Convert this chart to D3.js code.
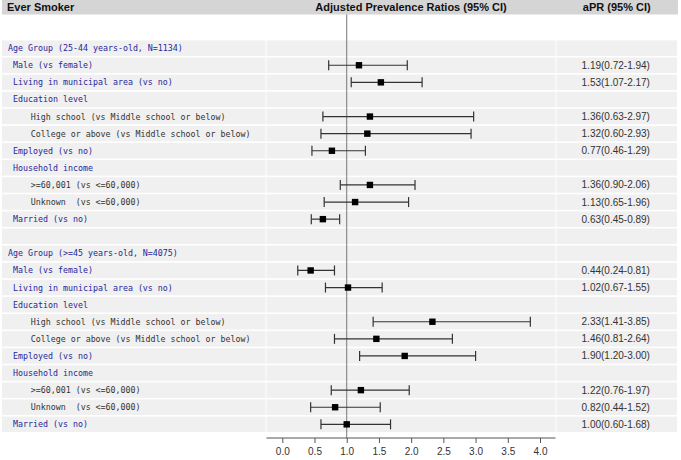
<!DOCTYPE html>
<html><head><meta charset="utf-8">
<script src="https://cdn.jsdelivr.net/npm/d3@7"></script>
<style>body{margin:0;background:#fff}svg{display:block}</style>
</head><body><svg id="c" width="681" height="460"></svg>
<script>
const labels = [
 "Age Group (25-44 years-old, N=1134)","Male (vs female)","Living in municipal area (vs no)","Education level",
 "High school (vs Middle school or below)","College or above (vs Middle school or below)","Employed (vs no)","Household income",
 ">=60,001 (vs <=60,000)","Unknown  (vs <=60,000)","Married (vs no)","",
 "Age Group (>=45 years-old, N=4075)","Male (vs female)","Living in municipal area (vs no)","Education level",
 "High school (vs Middle school or below)","College or above (vs Middle school or below)","Employed (vs no)","Household income",
 ">=60,001 (vs <=60,000)","Unknown  (vs <=60,000)","Married (vs no)"];
const levels = [0,1,1,1,2,2,1,1,2,2,1,-1,0,1,1,1,2,2,1,1,2,2,1];
const apr = [null,1.19,1.53,null,1.36,1.32,0.77,null,1.36,1.13,0.63,null,null,0.44,1.02,null,2.33,1.46,1.90,null,1.22,0.82,1.00];
const lo  = [null,0.72,1.07,null,0.63,0.60,0.46,null,0.90,0.65,0.45,null,null,0.24,0.67,null,1.41,0.81,1.20,null,0.76,0.44,0.60];
const hi  = [null,1.94,2.17,null,2.97,2.93,1.29,null,2.06,1.96,0.89,null,null,0.81,1.55,null,3.85,2.64,3.00,null,1.97,1.52,1.68];
const xTicks = [0,0.5,1,1.5,2,2.5,3,3.5,4];
const titles = ["Ever Smoker","Adjusted Prevalence Ratios (95% CI)","aPR (95% CI)"];

const svg = d3.select("#c");
const L = {x0:2, x1:265.5}, P = {x0:266.5, x1:555.5}, R = {x0:556.5, x1:677};
const y = d3.scaleBand().domain(d3.range(labels.length)).range([39.6, 39.6 + labels.length*17.1]);
const x = d3.scaleLinear().domain([0,4]).range([282.3, 540]);
const fmt = d3.format(".2f");

// header
svg.append("rect").attr("x",2).attr("y",0).attr("width",676).attr("height",14.5).attr("fill","#d5d5d5");
svg.append("text").attr("x",7).attr("y",11).text(titles[0])
  .attr("font-family","Liberation Sans, Arial, sans-serif").attr("font-size",11).attr("font-weight","bold").attr("fill","#111");
svg.append("text").attr("x",(P.x0+P.x1)/2).attr("y",11).attr("text-anchor","middle").text(titles[1])
  .attr("font-family","Liberation Sans, Arial, sans-serif").attr("font-size",11).attr("font-weight","bold").attr("fill","#111");
svg.append("text").attr("x",(R.x0+R.x1)/2).attr("y",11).attr("text-anchor","middle").text(titles[2])
  .attr("font-family","Liberation Sans, Arial, sans-serif").attr("font-size",11).attr("font-weight","bold").attr("fill","#111");

// row backgrounds
const rows = svg.append("g");
[L,P,R].forEach(c=>{
  rows.selectAll(null).data(labels).join("rect")
    .attr("x",c.x0).attr("width",c.x1-c.x0)
    .attr("y",(d,i)=>y(i)+0.8).attr("height",y.bandwidth()-1.6)
    .attr("fill","#f0f0f0");
});

// left labels
svg.append("g").selectAll("text").data(labels).join("text")
  .attr("x",(d,i)=>levels[i]===2?30.7:(levels[i]===1?13:8))
  .attr("y",(d,i)=>y(i)+y.bandwidth()/2+3)
  .attr("font-family","DejaVu Sans Mono, monospace").attr("font-size",8.3)
  .attr("fill",(d,i)=>levels[i]===2?"#333":"#27279a")
  .style("white-space","pre")
  .text(d=>d);

// right column values
svg.append("g").selectAll("text").data(apr.map((v,i)=>i).filter(i=>apr[i]!=null)).join("text")
  .attr("x",(R.x0+R.x1)/2-1).attr("y",i=>y(i)+y.bandwidth()/2+3.5)
  .attr("text-anchor","middle")
  .attr("font-family","Liberation Sans, Arial, sans-serif").attr("font-size",10).attr("fill","#333")
  .text(i=>`${fmt(apr[i])}(${fmt(lo[i])}-${fmt(hi[i])})`);

// reference line
svg.append("line").attr("x1",x(1)).attr("x2",x(1)).attr("y1",14.5).attr("y2",438)
  .attr("stroke","#777").attr("stroke-width",1);

// error bars
const idx = apr.map((v,i)=>i).filter(i=>apr[i]!=null);
const eb = svg.append("g").selectAll("g").data(idx).join("g")
  .attr("transform",i=>`translate(0,${y(i)+y.bandwidth()/2})`);
eb.append("line").attr("x1",i=>x(lo[i])).attr("x2",i=>x(hi[i])).attr("stroke","#333").attr("stroke-width",1.2);
eb.append("line").attr("x1",i=>x(lo[i])).attr("x2",i=>x(lo[i])).attr("y1",-5).attr("y2",5).attr("stroke","#333").attr("stroke-width",1.2);
eb.append("line").attr("x1",i=>x(hi[i])).attr("x2",i=>x(hi[i])).attr("y1",-5).attr("y2",5).attr("stroke","#333").attr("stroke-width",1.2);
eb.append("rect").attr("x",i=>x(apr[i])-3.2).attr("y",-3.2).attr("width",6.4).attr("height",6.4).attr("fill","#000");

// axis
const ax = svg.append("g").attr("transform","translate(0,438)")
  .call(d3.axisBottom(x).tickValues(xTicks).tickFormat(d3.format(".1f")).tickSize(5).tickPadding(5));
ax.select(".domain").attr("d",`M${P.x0},0H${P.x1}`).attr("stroke","#555");
ax.selectAll(".tick line").attr("stroke","#555");
ax.selectAll(".tick text").attr("font-family","Liberation Sans, Arial, sans-serif").attr("font-size",10).attr("fill","#333");
</script></body></html>
